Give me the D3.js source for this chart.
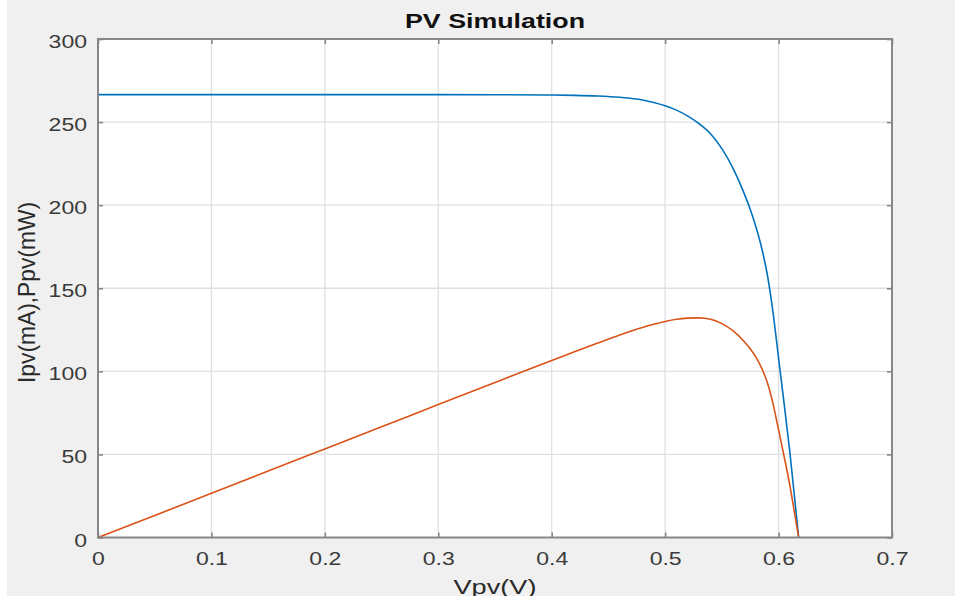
<!DOCTYPE html>
<html>
<head>
<meta charset="utf-8">
<script src="https://cdn.jsdelivr.net/npm/d3@7"></script>
<style>
  html, body { margin: 0; padding: 0; background: #ffffff; }
  svg { display: block; }
  text { font-family: "Liberation Sans", Arial, sans-serif; }
</style>
</head>
<body>
<svg id="chart" width="955" height="596"></svg>
<script>
// ---- data ----
const voltage = [0, 0.05, 0.1, 0.15, 0.2, 0.25, 0.3, 0.35, 0.4, 0.42, 0.44, 0.46, 0.48, 0.49, 0.5, 0.51, 0.52, 0.53, 0.54, 0.55, 0.56, 0.57, 0.575, 0.58, 0.585, 0.59, 0.595, 0.6, 0.605, 0.61, 0.615, 0.6177];
const currentMA = [266.5, 266.5, 266.5, 266.5, 266.5, 266.5, 266.5, 266.45, 266.3, 266.1, 265.7, 264.9, 263.3, 261.8, 259.8, 257.2, 253.6, 249.0, 243.0, 234.0, 222.0, 206.5, 197.5, 187.0, 174.5, 158.5, 136.0, 108.0, 80.0, 51.0, 18.0, 0];
const powerMW = [0, 13.3, 26.6, 40.0, 53.3, 66.6, 80.0, 93.3, 106.5, 111.8, 116.9, 121.9, 126.4, 128.3, 130.0, 131.3, 132.0, 132.2, 131.3, 128.7, 124.3, 117.7, 113.6, 108.5, 102.1, 93.5, 80.9, 64.8, 48.4, 31.1, 11.1, 0];
const xTicks = [0, 0.1, 0.2, 0.3, 0.4, 0.5, 0.6, 0.7];
const xTickLabels = ["0", "0.1", "0.2", "0.3", "0.4", "0.5", "0.6", "0.7"];
const yTicks = [0, 50, 100, 150, 200, 250, 300];
const titleText = "PV Simulation";
const xLabelText = "Vpv(V)";
const yLabelText = "Ipv(mA),Ppv(mW)";

// ---- layout ----
const W = 955, H = 596;
const plot = { left: 98, right: 892, top: 39, bottom: 537.5 };
const svg = d3.select("#chart");

svg.append("rect").attr("x", 7).attr("y", 0).attr("width", W - 7).attr("height", H).attr("fill", "#f0f0f0");

const x = d3.scaleLinear().domain([0, 0.7]).range([plot.left, plot.right]);
const y = d3.scaleLinear().domain([0, 300]).range([plot.bottom, plot.top]);

svg.append("rect")
  .attr("x", plot.left).attr("y", plot.top)
  .attr("width", plot.right - plot.left).attr("height", plot.bottom - plot.top)
  .attr("fill", "#ffffff");

// grid
const grid = svg.append("g").attr("stroke", "#e0e0e0").attr("stroke-width", 1.3);
grid.selectAll("line.v").data(xTicks.slice(1, -1)).join("line")
  .attr("x1", d => x(d)).attr("x2", d => x(d)).attr("y1", plot.top).attr("y2", plot.bottom);
grid.selectAll("line.h").data(yTicks.slice(1, -1)).join("line")
  .attr("y1", d => y(d)).attr("y2", d => y(d)).attr("x1", plot.left).attr("x2", plot.right);

// curves
const line = (vals) => d3.line()
  .x((d, i) => x(voltage[i]))
  .y(d => y(d))
  .curve(d3.curveMonotoneX)(vals);

svg.append("path").attr("d", line(currentMA)).attr("fill", "none")
  .attr("stroke", "#0072BD").attr("stroke-width", 1.6);
svg.append("path").attr("d", line(powerMW)).attr("fill", "none")
  .attr("stroke", "#D95319").attr("stroke-width", 1.6);

// axes
const axisColor = "#878787";
const xs = 1.28; // horizontal stretch of the reference's text

const gx = svg.append("g").attr("transform", `translate(0,${plot.bottom})`)
  .call(d3.axisBottom(x).tickValues(xTicks).tickFormat((d, i) => xTickLabels[i]).tickSizeInner(-5).tickSizeOuter(0).tickPadding(0));
const gxTop = svg.append("g").attr("transform", `translate(0,${plot.top})`)
  .call(d3.axisTop(x).tickValues(xTicks).tickFormat("").tickSizeInner(-5).tickSizeOuter(0));
const gy = svg.append("g").attr("transform", `translate(${plot.left},0)`)
  .call(d3.axisLeft(y).tickValues(yTicks).tickSizeInner(-5).tickSizeOuter(0).tickPadding(0));
const gyR = svg.append("g").attr("transform", `translate(${plot.right},0)`)
  .call(d3.axisRight(y).tickValues(yTicks).tickFormat("").tickSizeInner(-5).tickSizeOuter(0));

[gx, gxTop, gy, gyR].forEach(g => {
  g.select(".domain").remove();
  g.selectAll(".tick line").attr("stroke", axisColor).attr("stroke-width", 1.6);
});

gx.selectAll(".tick text")
  .attr("y", 0).attr("dy", null)
  .attr("transform", `translate(0,27) scale(${xs},1)`)
  .attr("fill", "#3a3a3a").attr("font-size", 18).attr("text-anchor", "middle");
gy.selectAll(".tick text")
  .attr("x", 0).attr("dy", null)
  .attr("transform", `translate(-11,8.5) scale(${xs},1)`)
  .attr("fill", "#3a3a3a").attr("font-size", 18).attr("text-anchor", "end");

// box
svg.append("rect")
  .attr("x", plot.left).attr("y", plot.top)
  .attr("width", plot.right - plot.left).attr("height", plot.bottom - plot.top)
  .attr("fill", "none").attr("stroke", axisColor).attr("stroke-width", 2);

// title
svg.append("text").attr("x", 495).attr("y", 28)
  .attr("text-anchor", "middle").attr("font-weight", "bold").attr("font-size", 19.5)
  .attr("fill", "#111").attr("textLength", 180).attr("lengthAdjust", "spacingAndGlyphs")
  .text(titleText);

// x label (cut off at the bottom edge, as in the reference)
svg.append("text").attr("x", 495).attr("y", 594)
  .attr("text-anchor", "middle").attr("font-size", 21).attr("fill", "#2a2a2a")
  .attr("textLength", 83).attr("lengthAdjust", "spacingAndGlyphs")
  .text(xLabelText);

// y label
svg.append("text")
  .attr("transform", "translate(34.5,292.5) rotate(-90)")
  .attr("text-anchor", "middle").attr("font-size", 24).attr("fill", "#2a2a2a")
  .attr("textLength", 181).attr("lengthAdjust", "spacingAndGlyphs")
  .text(yLabelText);
</script>
</body>
</html>
